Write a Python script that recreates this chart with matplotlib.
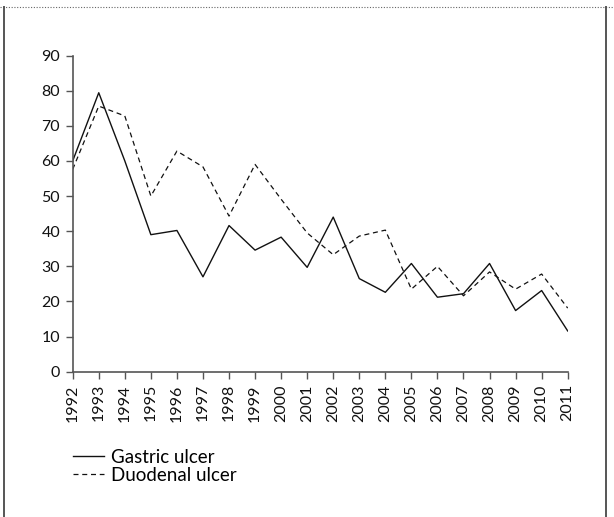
import matplotlib
matplotlib.use("Agg")
import matplotlib.pyplot as plt
from matplotlib.lines import Line2D

plt.rcParams["font.family"] = ["Lato", "DejaVu Sans"]

years = list(range(1992, 2012))
gastric = [60.0, 79.4, 60.0, 39.0, 40.2, 27.0, 41.6, 34.6, 38.3, 29.7,
           44.0, 26.5, 22.6, 30.8, 21.2, 22.2, 30.8, 17.4, 23.1, 11.6]
duodenal = [57.6, 75.6, 72.8, 50.0, 62.8, 58.3, 44.3, 59.0, 49.1, 39.5,
            33.3, 38.6, 40.3, 23.5, 30.0, 21.6, 28.4, 23.5, 27.8, 18.1]
yticks = [0, 10, 20, 30, 40, 50, 60, 70, 80, 90]
labels = ["Gastric ulcer", "Duodenal ulcer"]

W, H = 614, 517
fig = plt.figure(figsize=(W / 100, H / 100), dpi=100)
ax = fig.add_axes([72.7 / W, 1 - 371.7 / H, (567.7 - 72.7) / W, (371.7 - 55.5) / H])

ax.plot(years, gastric, color="#111", lw=1.0, label=labels[0])
ax.plot(years, duodenal, color="#111", lw=0.9, ls=(0, (4, 3)), label=labels[1])

ax.set_xlim(years[0], years[-1])
ax.set_ylim(0, 90)
ax.set_xticks(years)
ax.set_xticklabels([str(y) for y in years], rotation=90, fontsize=11.5)
ax.set_yticks(yticks)
ax.set_yticklabels([str(t) for t in yticks], fontsize=11.5)

for s in ["top", "right"]:
    ax.spines[s].set_visible(False)
for s in ["left", "bottom"]:
    ax.spines[s].set_color("#555")
    ax.spines[s].set_linewidth(1.2)
ax.tick_params(axis="both", color="#555", width=1.0, length=5, pad=4,
               labelcolor="#111")
ax.spines["left"].set_bounds(0, 90)

fig.legend(loc="upper left", bbox_to_anchor=(73 / W, 1 - 449 / H),
           frameon=False, fontsize=13.5, handlelength=1.65, handletextpad=0.4,
           labelspacing=0.05, borderaxespad=0, borderpad=0)

# outer frame: dotted top rule, grey side borders
fig.add_artist(Line2D([0, 1], [1 - 7 / H, 1 - 7 / H], color="#666", lw=0.8,
                      ls=(0, (1, 1.5)), transform=fig.transFigure))
fig.add_artist(Line2D([4 / W, 4 / W], [0, 1 - 7 / H], color="#555", lw=1.4,
                      transform=fig.transFigure))
fig.add_artist(Line2D([606 / W, 606 / W], [0, 1 - 7 / H], color="#555", lw=1.4,
                      transform=fig.transFigure))

fig.savefig("out.png", dpi=100, facecolor="white")
